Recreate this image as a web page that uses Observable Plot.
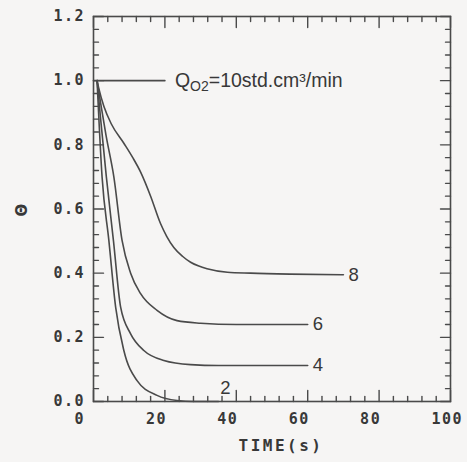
<!DOCTYPE html>
<html>
<head>
<meta charset="utf-8">
<script src="https://cdn.jsdelivr.net/npm/d3@7"></script>
<script src="https://cdn.jsdelivr.net/npm/@observablehq/plot@0.6"></script>
<style>
  body { margin: 0; background: #f6f5f4; }
  .mono text { letter-spacing: 1.5px; }
  .title text { letter-spacing: 2.5px; }
</style>
</head>
<body>
<div id="chart"></div>
<script>
// Relative coverage θ versus time for several O2 flow rates (std.cm³/min)
const flows = [2, 4, 6, 8];

const time2  = [1, 2.4, 4.3, 6.2, 8.5, 12.2, 17.8, 23.4, 28, 35];
const theta2 = [1, 0.70, 0.502, 0.294, 0.159, 0.065, 0.019, 0.003, 0.0, 0.0];

const time4  = [1, 2.0, 3.6, 5.6, 7.6, 10.4, 14.1, 19.7, 27.2, 35, 60];
const theta4 = [1, 0.88, 0.70, 0.50, 0.294, 0.211, 0.159, 0.128, 0.115, 0.112, 0.112];

const time6  = [1, 2.0, 3.5, 5.7, 8.0, 10.4, 13.2, 17.8, 23.4, 30, 40, 60];
const theta6 = [1, 0.93, 0.83, 0.70, 0.502, 0.40, 0.336, 0.284, 0.252, 0.244, 0.24, 0.24];

const time8  = [1, 1.5, 2.9, 5, 8.5, 11, 13.2, 16, 18.8, 20.5, 22.5, 25, 27.2, 29.5, 31.8, 37.5, 44, 55, 70];
const theta8 = [1, 0.975, 0.92, 0.865, 0.805, 0.76, 0.715, 0.64, 0.554, 0.515, 0.48, 0.452, 0.434, 0.422, 0.414, 0.403, 0.40, 0.397, 0.395];

// Q = 10: coverage stays at 1
const time10  = [0, 20];
const theta10 = [1, 1];

const xMajor = [0, 20, 40, 60, 80, 100];
const yMajor = [0, 0.2, 0.4, 0.6, 0.8, 1.0, 1.2];
const xMinor = d3.range(0, 101, 4).filter(v => v % 20 !== 0);
const yMinor = d3.range(0, 61, 2).map(v => v / 50).filter(v => Math.round(v * 100) % 20 !== 0);

const curveTimes  = [time2, time4, time6, time8];
const curveThetas = [theta2, theta4, theta6, theta8];

const rows = flows.flatMap((q, i) =>
  curveTimes[i].map((t, j) => ({q, t, theta: curveThetas[i][j]})));
const ends = flows.map((q, i) => ({
  q, t: curveTimes[i].at(-1), theta: curveThetas[i].at(-1)
}));
const labelDx = [7, 5, 5, 5];
const labelDy = [-13, 0, 0, 0];
const labelAnchor = ["middle", "start", "start", "start"];

const W = 467, H = 462;
const mL = 93, mR = 17, mT = 16, mB = 61;
const fw = W - mL - mR, fh = H - mT - mB;
const xDomain = [0, 100], yDomain = [0, 1.2];
// pixel lengths expressed in data units along each axis
const yLen = px => px / fh * (yDomain[1] - yDomain[0]);
const xLen = px => px / fw * (xDomain[1] - xDomain[0]);

const ink = "#4a4a4a";
const textInk = "#383838";

// inward tick segments on all four sides of the frame
const tickSegments = [];
const addX = (values, len) => values.forEach(v => {
  tickSegments.push({id: `b${v}`, x: v, y: yDomain[0]}, {id: `b${v}`, x: v, y: yDomain[0] + yLen(len)});
  tickSegments.push({id: `t${v}`, x: v, y: yDomain[1] - yLen(len)}, {id: `t${v}`, x: v, y: yDomain[1]});
});
const addY = (values, len) => values.forEach(v => {
  tickSegments.push({id: `l${v}`, x: xDomain[0], y: v}, {id: `l${v}`, x: xDomain[0] + xLen(len), y: v});
  tickSegments.push({id: `r${v}`, x: xDomain[1] - xLen(len), y: v}, {id: `r${v}`, x: xDomain[1], y: v});
});
addX(xMinor, 5);
addX(xMajor, 11);
addY(yMinor, 5);
addY(yMajor, 10);

const chart = Plot.plot({
  width: W,
  height: H,
  marginLeft: mL,
  marginRight: mR,
  marginTop: mT,
  marginBottom: mB,
  x: {domain: xDomain},
  y: {domain: yDomain},
  style: {background: "#f6f5f4", color: textInk, fontFamily: "'DejaVu Sans Mono', monospace"},
  marks: [
    Plot.axisX(xMajor, {anchor: "bottom", tickSize: 0, tickPadding: 12, textAnchor: "start", dx: -19,
      fontSize: 15, fontWeight: "bold", label: null, className: "mono"}),
    Plot.axisY(yMajor, {anchor: "left", tickSize: 0, tickPadding: 8.5, tickFormat: d3.format(".1f"),
      fontSize: 15, fontWeight: "bold", label: null, className: "mono"}),
    Plot.text(["Θ"], {frameAnchor: "left", dx: -71, dy: 7.5, rotate: -90, fontSize: 15, fontWeight: "bold",
      fontFamily: "'DejaVu Sans', sans-serif"}),
    Plot.text(["TIME(s)"], {frameAnchor: "bottom", dx: 9, dy: 49, fontSize: 16, fontWeight: "bold",
      className: "title"}),
    Plot.line(rows, {x: "t", y: "theta", z: "q", curve: "monotone-x", stroke: ink, strokeWidth: 1.6}),
    Plot.line(time10, {x: d => d, y: (d, i) => theta10[i], stroke: ink, strokeWidth: 1.6}),
    Plot.text(ends, {x: "t", y: "theta", text: d => String(d.q), textAnchor: "start", fontSize: 18.5,
      fontFamily: "'Liberation Sans', Arial, sans-serif", className: "flowlabel"}),
    Plot.text([{t: time10.at(-1), theta: theta10.at(-1)}], {x: "t", y: "theta", text: () => "Q=10std.cm³/min",
      dx: 10, textAnchor: "start", fontSize: 19.5,
      fontFamily: "'Liberation Sans', Arial, sans-serif", className: "qlabel"}),
    Plot.frame({stroke: ink, strokeWidth: 1.6}),
    Plot.line(tickSegments, {x: "x", y: "y", z: "id", stroke: ink, strokeWidth: 1.4})
  ]
});

// per-label offsets for the flow-rate labels
d3.select(chart).selectAll("g.flowlabel text").each(function(_, i) {
  const el = d3.select(this);
  el.attr("text-anchor", labelAnchor[i]);
  const tr = el.attr("transform") || "";
  el.attr("transform", `${tr} translate(${labelDx[i]},${labelDy[i]})`);
});

// subscript O2 in the flow-rate label
d3.select(chart).selectAll("g.qlabel text").each(function() {
  const el = d3.select(this);
  el.text(null);
  el.append("tspan").text("Q");
  el.append("tspan").attr("font-size", 14).attr("dy", 4).text("O2");
  el.append("tspan").attr("dy", -4).text("=10std.cm³/min");
});

document.getElementById("chart").appendChild(chart);
</script>
</body>
</html>
